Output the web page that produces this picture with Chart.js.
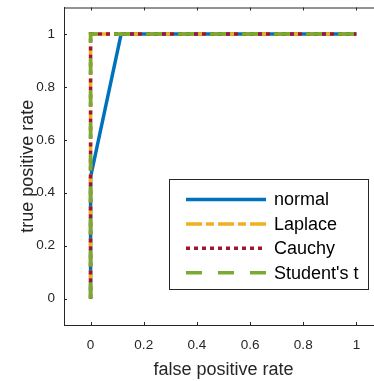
<!doctype html>
<html>
<head>
	<title>ROC curves</title>
	<script src="https://cdn.jsdelivr.net/npm/chart.js@4/dist/chart.umd.min.js"></script>
	<style>
		body { margin: 0; background: #fff; overflow: hidden; }
		#wrap { width: 374px; height: 381px; overflow: hidden; }
	</style>
</head>
<body>
	<div id="wrap">
		<canvas id="canvas" width="400" height="381" style="width:400px;height:381px;"></canvas>
	</div>
	<script>
		// ROC curve points (false positive rate, true positive rate)
		const normalFpr = [0, 0, 0.115, 1];
		const normalTpr = [0, 0.46, 1, 1];
		const laplaceFpr = [0, 0, 1];
		const laplaceTpr = [0, 1, 1];
		const cauchyFpr = [0, 0, 1];
		const cauchyTpr = [0, 1, 1];
		const studentFpr = [0, 0, 1];
		const studentTpr = [0, 1, 1];
		const xTicks = [0, 0.2, 0.4, 0.6, 0.8, 1];
		const yTicks = [0, 0.2, 0.4, 0.6, 0.8, 1];

		const ink = '#262626';
		const font = 'Liberation Sans, Arial, Helvetica, sans-serif';

		const toPoints = (xs, ys) => xs.map((x, i) => ({x: x, y: ys[i]}));

		const series = [
			{label: 'normal', xs: normalFpr, ys: normalTpr, color: '#0072BD', dash: [], order: 4},
			{label: 'Laplace', xs: laplaceFpr, ys: laplaceTpr, color: '#EDB120', dash: [16, 4, 8, 4], order: 3},
			{label: 'Cauchy', xs: cauchyFpr, ys: cauchyTpr, color: '#A2142F', dash: [4, 4], order: 2},
			{label: "Student's t", xs: studentFpr, ys: studentTpr, color: '#77AC30', dash: [16, 16], order: 1}
		];

		// frame on top and inward tick marks, matlab style
		const framePlugin = {
			id: 'frame',
			beforeDatasetsDraw(chart) {
				const {ctx, chartArea: a, scales} = chart;
				ctx.save();
				ctx.strokeStyle = ink;
				ctx.lineWidth = 1;
				ctx.beginPath();
				ctx.moveTo(a.left, a.top + 0.5);
				ctx.lineTo(a.right, a.top + 0.5);
				xTicks.forEach(v => {
					const px = Math.round(scales.x.getPixelForValue(v)) + 0.5;
					ctx.moveTo(px, a.bottom);
					ctx.lineTo(px, a.bottom - 3);
					ctx.moveTo(px, a.top);
					ctx.lineTo(px, a.top + 3);
				});
				yTicks.forEach(v => {
					const py = Math.round(scales.y.getPixelForValue(v)) + 0.5;
					ctx.moveTo(a.left, py);
					ctx.lineTo(a.left + 3, py);
				});
				ctx.stroke();
				ctx.restore();
			}
		};

		// boxed legend inside the axes, lower right
		const legendPlugin = {
			id: 'boxLegend',
			afterDatasetsDraw(chart) {
				const ctx = chart.ctx;
				const bx = 169.5, by = 179.5, bw = 199, bh = 110;
				ctx.save();
				ctx.fillStyle = '#fff';
				ctx.fillRect(bx, by, bw, bh);
				ctx.strokeStyle = ink;
				ctx.lineWidth = 1;
				ctx.strokeRect(bx, by, bw, bh);
				series.forEach((s, i) => {
					const y = 199.5 + i * 24.4;
					ctx.strokeStyle = s.color;
					ctx.lineWidth = 3.5;
					ctx.setLineDash(s.dash);
					ctx.beginPath();
					ctx.moveTo(186, y);
					ctx.lineTo(266, y);
					ctx.stroke();
					ctx.setLineDash([]);
					ctx.fillStyle = '#000';
					ctx.font = '18px ' + font;
					ctx.textBaseline = 'middle';
					ctx.fillText(s.label, 274, y + 1);
				});
				ctx.restore();
			}
		};

		const config = {
			type: 'line',
			data: {
				datasets: series.map(s => ({
					label: s.label,
					data: toPoints(s.xs, s.ys),
					borderColor: s.color,
					backgroundColor: s.color,
					borderWidth: 3.5,
					borderDash: s.dash,
					pointRadius: 0,
					fill: false,
					tension: 0,
					order: s.order
				}))
			},
			options: {
				responsive: false,
				animation: false,
				layout: {padding: {left: 0, top: 7.5, right: 17, bottom: 0}},
				plugins: {
					legend: {display: false},
					tooltip: {enabled: false}
				},
				scales: {
					x: {
						type: 'linear',
						min: -0.1,
						max: 1.1,
						afterBuildTicks(scale) { scale.ticks = xTicks.map(v => ({value: v})); },
						afterFit(scale) {
							scale.height = 56;
							scale.paddingLeft = 0;
							scale.paddingRight = 0;
						},
						grid: {display: false, drawTicks: false},
						border: {display: true, color: ink, width: 1},
						ticks: {
							color: ink,
							padding: 12,
							maxRotation: 0,
							callback: v => String(v),
							font: {family: font, size: 13.5}
						},
						title: {
							display: true,
							text: 'false positive rate',
							color: ink,
							font: {family: font, size: 18},
							padding: {top: 0, bottom: 0}
						}
					},
					y: {
						type: 'linear',
						min: -0.1,
						max: 1.1,
						afterBuildTicks(scale) { scale.ticks = yTicks.map(v => ({value: v})); },
						afterFit(scale) {
							scale.width = 64;
							scale.paddingTop = 0;
							scale.paddingBottom = 0;
						},
						grid: {display: false, drawTicks: false},
						border: {display: true, color: ink, width: 1},
						ticks: {
							color: ink,
							padding: 9,
							callback: v => String(v),
							font: {family: font, size: 13.5}
						},
						title: {
							display: true,
							text: 'true positive rate',
							color: ink,
							font: {family: font, size: 18},
							padding: {top: 17, bottom: 0}
						}
					}
				}
			},
			plugins: [framePlugin, legendPlugin]
		};

		window.onload = function() {
			const ctx = document.getElementById('canvas').getContext('2d');
			window.myLine = new Chart(ctx, config);
		};
	</script>
</body>
</html>
